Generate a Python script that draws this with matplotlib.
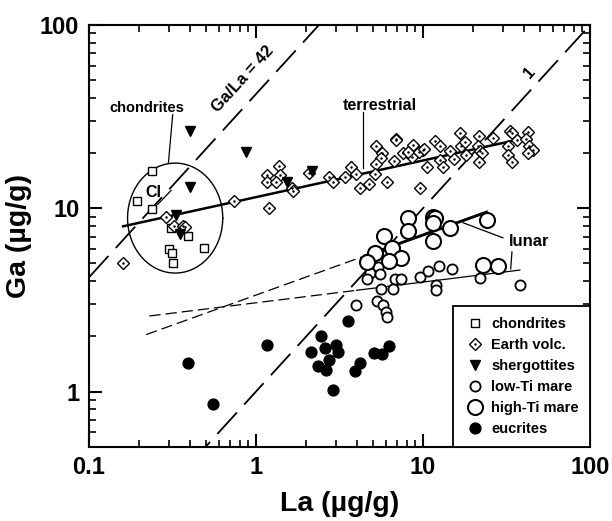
import numpy as np
import matplotlib
matplotlib.use("Agg")
import matplotlib.pyplot as plt
from matplotlib.ticker import FixedLocator, FuncFormatter, LogLocator, NullFormatter

plt.rcParams['font.family'] = ['Liberation Sans', 'DejaVu Sans']
plt.rcParams['font.weight'] = 'bold'

# ---------------- data (La, Ga in ug/g) ----------------
chond_la = [0.24, 0.193, 0.238, 0.392, 0.30, 0.314, 0.32, 0.49, 0.31]
chond_ga = [16.0, 11.0, 9.85, 7.1, 6.0, 5.7, 5.0, 6.06, 7.8]

sherg_la = [0.40, 0.87, 0.40, 0.33, 0.35, 1.53, 2.16]
sherg_ga = [26.5, 20.4, 13.1, 9.2, 7.2, 13.9, 16.0]

earth_la = [0.16, 0.29, 0.324, 0.367, 0.376, 0.74, 1.20, 1.38, 1.17, 1.39, 1.17, 1.32,
            1.64, 1.66, 2.08, 2.74, 2.9, 3.41, 3.69, 3.97, 4.2, 4.75, 5.23, 5.7, 5.6,
            5.23, 5.16, 6.1, 6.86, 6.9, 6.7, 7.6, 8.75, 8.55, 9.6, 10.0, 10.5, 8.17,
            9.4, 10.1, 11.8, 12.6, 12.7, 13.1, 14.5, 15.4, 16.7, 17.0, 17.8, 18.2,
            21.6, 21.3, 21.9, 22.5, 21.6, 26.4, 33.2, 34.0, 36.3, 32.4, 42.7, 41.3,
            43.2, 45.6, 42.7, 32.4, 34.0]
earth_ga = [5.0, 9.0, 8.0, 8.0, 7.9, 10.9, 10.0, 17.1, 15.1, 15.1, 13.9, 13.9,
            12.9, 12.4, 15.6, 14.9, 13.9, 14.8, 16.9, 15.4, 12.9, 13.5, 22.0, 19.9, 18.9,
            17.5, 15.4, 13.9, 23.9, 23.5, 18.0, 20.0, 22.2, 19.0, 12.9, 20.9, 16.9, 20.4,
            20.4, 21.0, 23.2, 21.8, 18.4, 16.9, 20.6, 18.6, 25.8, 21.9, 22.9, 19.6,
            24.7, 21.8, 20.6, 19.9, 17.8, 24.2, 26.5, 25.8, 23.7, 21.8, 26.0, 23.9,
            21.8, 20.9, 19.9, 19.6, 17.9]

lowti_la = [4.82, 5.4, 4.82, 5.53, 4.6, 6.8, 7.38, 9.6, 10.7, 12.5, 15.0, 21.9, 38.1,
            11.9, 11.9, 5.6, 6.64, 3.97, 5.28, 5.78, 6.0, 6.1]
lowti_ga = [4.97, 4.81, 4.46, 4.39, 4.1, 4.1, 4.1, 4.21, 4.55, 4.85, 4.69, 4.16, 3.79,
            3.82, 3.59, 3.62, 3.62, 2.97, 3.12, 2.97, 2.7, 2.56]

highti_la = [8.18, 11.4, 11.8, 11.4, 24.1, 8.18, 14.5, 11.5, 5.87, 6.48, 5.16, 7.38,
             6.28, 4.6, 23.0, 28.2]
highti_ga = [8.84, 9.0, 8.84, 8.3, 8.65, 7.47, 7.8, 6.59, 7.07, 6.06, 5.69, 5.35,
             5.17, 5.12, 4.91, 4.85]

eucr_la = [0.39, 0.55, 1.17, 3.55, 2.45, 2.13, 2.59, 3.0, 3.11, 2.75, 2.34, 2.63,
           4.2, 3.92, 5.1, 5.66, 6.22, 2.88]
eucr_ga = [1.44, 0.86, 1.8, 2.43, 2.0, 1.64, 1.72, 1.79, 1.64, 1.49, 1.38, 1.31,
           1.44, 1.29, 1.62, 1.60, 1.78, 1.02]

# reference ratio lines Ga = r * La
ratio_lines = [42.0, 1.0]
# power-law trends Ga = a * La^b : (a, b, dashed from, solid from, to)
terr_fit = (11.5, 0.20, 0.16, 43.7)
lunar_fit = (3.36, 0.328, 0.22, 4.5, 24.0)
lowti_fit = (3.05, 0.113, 0.23, 4.0, 38.0)

x_ticks = [0.1, 1, 10, 100]
y_ticks = [1, 10, 100]

# ---------------- figure ----------------
fig = plt.figure(figsize=(6.12, 5.21), dpi=100)
ax = fig.add_axes([89/612, 1 - 446.7/521, (590-89)/612, (446.7-25)/521])
ax.set_xscale('log')
ax.set_yscale('log')
ax.set_xlim(0.1, 100)
ax.set_ylim(0.5, 100)

# reference lines
xx = np.logspace(-1, 2, 200)
ax.plot(xx, ratio_lines[0] * xx, color='black', lw=1.3, dashes=(16, 6), zorder=1)
ax.plot(xx, ratio_lines[1] * xx, color='black', lw=1.3, dashes=(16, 6), zorder=1)

# ellipse around chondrites (in log space)
t = np.linspace(0, 2 * np.pi, 300)
ex = 10 ** (np.log10(0.328) + 0.285 * np.cos(t))
ey = 10 ** (np.log10(8.84) + 0.300 * np.sin(t))
ax.plot(ex, ey, color='black', lw=1.0, zorder=1)

# terrestrial trend
a, b, x0, x1 = terr_fit
xs = np.logspace(np.log10(x0), np.log10(x1), 50)
ax.plot(xs, a * xs ** b, color='black', lw=1.8, zorder=2)

# lunar trends
for fit, lw_solid in ((lunar_fit, 2.1), (lowti_fit, 0.9)):
    a, b, x0, xm, x1 = fit
    xd = np.logspace(np.log10(x0), np.log10(xm), 50)
    ax.plot(xd, a * xd ** b, color='black', lw=0.9, dashes=(9, 4), zorder=2)
    xs = np.logspace(np.log10(xm), np.log10(x1), 50)
    ax.plot(xs, a * xs ** b, color='black', lw=lw_solid, zorder=2)

# markers
h_ch, = ax.plot(chond_la, chond_ga, 's', ms=6, mfc='white', mec='black', mew=1.0, ls='none', zorder=3)
h_ev, = ax.plot(earth_la, earth_ga, 'D', ms=6.5, mfc='white', mec='black', mew=1.0, ls='none', zorder=3)
h_evd, = ax.plot(earth_la, earth_ga, 'o', ms=1.8, mfc='black', mec='black', mew=0, ls='none', zorder=3)
h_sh, = ax.plot(sherg_la, sherg_ga, 'v', ms=7.5, mfc='black', mec='black', ls='none', zorder=4)
h_lo, = ax.plot(lowti_la, lowti_ga, 'o', ms=7.3, mfc='white', mec='black', mew=1.3, ls='none', zorder=3)
h_hi, = ax.plot(highti_la, highti_ga, 'o', ms=10.8, mfc='white', mec='black', mew=1.5, ls='none', zorder=3)
h_eu, = ax.plot(eucr_la, eucr_ga, 'o', ms=7.8, mfc='black', mec='black', ls='none', zorder=3)

# annotations
ax.text(0.222, 35.4, 'chondrites', fontsize=10.5, ha='center', va='center')
ax.plot([0.317, 0.299], [32.4, 17.7], color='black', lw=0.9)
ax.text(0.242, 12.2, 'CI', fontsize=11.5, ha='center', va='center')
ax.plot([0.31, 0.258], [12.5, 10.5], color='black', lw=0.9)
ax.text(5.53, 36.3, 'terrestrial', fontsize=11.5, ha='center', va='center')
ax.plot([4.37, 4.37], [33.7, 16.6], color='black', lw=0.9)
ax.text(43.1, 6.56, 'lunar', fontsize=12, ha='center', va='center')
ax.plot([17.4, 30.1], [8.33, 6.9], color='black', lw=0.9)
ax.plot([34.1, 33.5], [5.78, 4.67], color='black', lw=0.9)
ax.text(0.84, 51, 'Ga/La = 42', fontsize=12, ha='center', va='center', rotation=47.6)
ax.text(43.7, 55, '1', fontsize=11.5, ha='center', va='center', rotation=47.6)

# axes styling
for s in ax.spines.values():
    s.set_linewidth(1.5)
ax.xaxis.set_major_locator(FixedLocator(x_ticks))
ax.yaxis.set_major_locator(FixedLocator(y_ticks))
ax.xaxis.set_minor_locator(LogLocator(base=10, subs=np.arange(2, 10)))
ax.yaxis.set_minor_locator(LogLocator(base=10, subs=np.arange(2, 10)))
fmt = FuncFormatter(lambda v, p: '%g' % v)
ax.xaxis.set_major_formatter(fmt)
ax.yaxis.set_major_formatter(fmt)
ax.xaxis.set_minor_formatter(NullFormatter())
ax.yaxis.set_minor_formatter(NullFormatter())
ax.tick_params(which='both', direction='in', top=True, right=True)
ax.tick_params(which='major', length=9.5, width=1.5, labelsize=17, pad=7)
ax.tick_params(which='minor', length=5, width=1.2)
for lab in ax.get_xticklabels() + ax.get_yticklabels():
    lab.set_fontweight('bold')

ax.set_xlabel('La (µg/g)', fontsize=20.5, fontweight='bold', labelpad=8)
ax.set_ylabel('Ga (µg/g)', fontsize=20.5, fontweight='bold', labelpad=6)

leg = ax.legend([h_ch, (h_ev, h_evd), h_sh, h_lo, h_hi, h_eu],
                ['chondrites', 'Earth volc.', 'shergottites', 'low-Ti mare', 'high-Ti mare', 'eucrites'],
                loc='lower right', borderaxespad=0, fancybox=False, edgecolor='black',
                framealpha=1, prop={'size': 10.5, 'weight': 'bold'}, handlelength=1.5,
                handletextpad=0.4, labelspacing=0.48, borderpad=0.75, numpoints=1)
leg.get_frame().set_linewidth(1.3)
leg.set_zorder(5)

fig.savefig('out.png', dpi=100)
